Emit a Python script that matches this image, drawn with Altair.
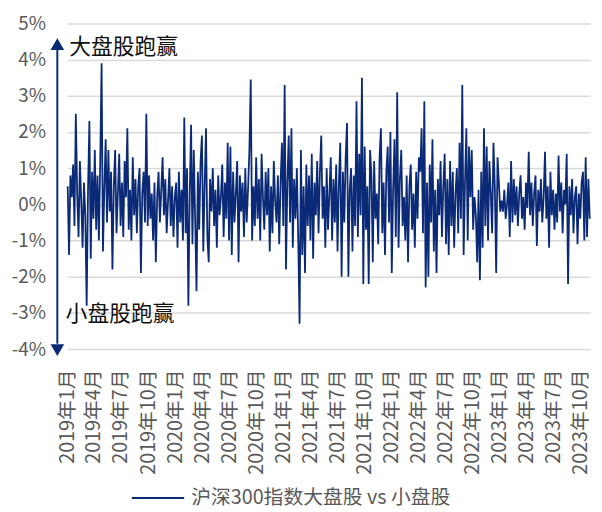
import altair as alt
import pandas as pd

# values (%), quarter by quarter
q = [
 [0.5, -1.4, 0.8, 0.2, 1.1, -0.6, 2.5, 0.3, -0.9, 1.2, 0.1, -1.2, 0.6, -0.3, -2.8, 0.4, 2.3, -1.5, 0.9, -0.4],
 [1.5, -0.7, 0.8, -1.0, 1.2, 3.9, -1.3, 0.4, 1.8, -0.5, 1.5, -0.2, 0.9, -1.8, 0.5, 1.5, -0.8, 0.3, 1.4, -0.6],
 [0.6, -0.9, 1.2, 0.2, 2.1, -0.7, 0.4, -1.0, 1.3, -0.3, 0.7, -0.8, 0.5, 1.0, -1.9, 0.3, 0.9, -0.5, 2.5, -0.6],
 [0.8, -0.4, 0.3, -1.0, 0.6, -1.6, 0.2, 0.9, -0.5, 0.4, 1.3, -0.3, 0.7, -0.8, 0.1, 1.0, -0.6, 0.5, -0.9, 0.2],
 [0.6, -1.2, 0.9, -0.5, 0.4, -1.0, 2.4, -0.8, 1.0, -2.8, 0.3, 2.2, -1.1, 1.5, -0.4, -2.4, 0.9, -0.7, 1.2, 1.9],
 [-1.3, 0.5, 2.1, -0.9, -1.6, 0.7, -0.2, 1.0, -0.6, 0.4, -1.2, 0.8, -0.3, 0.2, 1.1, -0.9, 0.6, -0.4, 1.7, -1.0],
 [1.6, -1.4, 0.9, -0.5, 0.3, 1.2, -1.6, 0.8, -0.2, 0.6, -0.9, 1.0, -0.5, 0.4, 1.5, 3.45, -1.0, 0.5, -0.6, 1.3],
 [-0.4, 0.7, -1.0, 1.4, 0.2, -0.7, 0.9, -0.3, 1.0, -1.3, 0.5, -0.8, 1.2, 0.1, -0.5, 0.8, -1.1, 0.6, 1.7, -0.6],
 [3.3, -1.8, 0.6, 1.9, -0.5, 2.1, -1.2, 0.7, -0.4, 1.0, -0.9, -3.3, 1.5, -1.4, 0.5, -1.9, 1.1, -0.6, 0.8, -1.0],
 [1.4, -1.5, 0.6, -0.3, 1.2, -0.8, 0.9, 1.9, -0.4, 0.5, -1.2, 1.0, -0.7, 0.3, 1.3, -1.0, 0.7, -0.5, 1.1, -1.3],
 [0.6, 1.7, -2.0, 0.9, -0.5, 1.3, 2.25, -2.0, 0.4, 1.0, -1.3, 0.8, -0.6, 2.85, -0.9, 1.4, -0.3, 3.5, -2.2, 1.6],
 [-0.7, 0.5, -2.2, 1.5, 0.8, -1.6, 1.2, -0.4, 0.3, -1.1, 1.3, 2.1, -0.8, 0.6, -1.4, 0.9, 1.6, -0.5, 2.0, -1.9],
 [0.4, 1.8, -0.9, 3.1, -1.2, 0.7, 1.5, -0.6, 0.2, -1.0, 0.8, -1.6, 0.5, 1.1, -0.7, 0.3, -1.2, 0.9, -0.4, 1.3],
 [0.9, 2.1, -0.8, 2.85, -2.3, 0.6, -2.0, 1.1, -0.5, 1.8, -1.3, 0.4, -1.9, 0.7, -0.3, 1.2, -0.9, 0.5, 1.4, -1.1],
 [0.7, -1.4, 1.2, -0.6, 0.9, -1.2, 0.3, 1.0, -0.8, 1.7, -0.4, 3.3, -1.4, 0.6, 2.1, -1.0, 1.6, 0.2, 1.5, -0.7],
 [0.2, -0.3, -1.6, 0.4, -2.1, 0.9, -1.2, 2.1, -0.6, 1.6, -1.0, 1.2, 0.3, -0.8, 1.7, 0.5, -1.9, 1.3, 0.6, -0.2],
 [0.1, -0.2, 0.4, -0.4, 0.0, 0.6, -0.9, 1.2, -0.5, 0.7, -0.3, 0.5, -0.6, 0.3, 0.8, -0.4, 0.2, -0.7, 0.6, -0.1],
 [1.45, -0.3, 0.6, -0.6, 0.3, 0.8, -1.15, 0.4, -0.2, 0.7, -0.5, 0.2, 1.45, -0.4, 0.5, -1.2, 0.9, -0.3, 0.4, -0.7],
 [0.3, -0.5, 1.35, -0.2, 0.6, -0.8, 0.4, 0.0, 1.4, -2.2, 0.5, -0.3, 0.7, -0.8, 0.2, 0.5, -1.1, 0.3, -0.4, 0.6],
 [0.9, -1.0, 1.3, -0.9, 0.7, -0.4],
]
values = [v for part in q for v in part]
series_name = "沪深300指数大盘股 vs 小盘股"
tick_dates = [f"{y}-{m:02d}-01" for y in range(2019, 2024) for m in (1, 4, 7, 10)]
y_ticks = [-4, -3, -2, -1, 0, 1, 2, 3, 4, 5]
annot_text = ["大盘股跑赢", "小盘股跑赢"]
annot_x = ["2019-01-07", "2018-12-26"]
annot_y = [4.35, -3.03]

NAVY = "#0a2a78"
FONT = "Noto Sans CJK SC"

dates = pd.date_range("2019-01-02", "2023-10-31", periods=len(values))
df = pd.DataFrame({"date": dates, "v": values, "series": series_name})

xscale = alt.Scale(domain=["2019-01-01", "2023-11-01"])
yscale = alt.Scale(domain=[-4, 5], nice=False, zero=False)

xaxis = alt.Axis(values=tick_dates,
                 labelExpr="timeFormat(datum.value, '%Y') + '年' + (month(datum.value)+1) + '月'",
                 labelAngle=-90, labelFontSize=20, labelFont=FONT, labelColor="#595959",
                 ticks=False, domain=False, grid=False, labelPadding=20, labelOverlap=False,
                 labelBound=False)
yaxis = alt.Axis(values=y_ticks, labelExpr="datum.value + '%'", labelFontSize=19, labelFont=FONT,
                 labelColor="#595959", ticks=False, domain=False, gridColor="#d9d9d9",
                 gridWidth=1.5, labelPadding=22, labelOverlap=False, labelBound=False,
                 labelFlush=False)

line = alt.Chart(df).mark_line(strokeWidth=1.8).encode(
    x=alt.X("date:T", scale=xscale, title=None, axis=xaxis),
    y=alt.Y("v:Q", scale=yscale, title=None, axis=yaxis),
    color=alt.Color("series:N", scale=alt.Scale(range=[NAVY]),
                    legend=alt.Legend(title=None, orient="none", legendX=64, legendY=452,
                                      symbolType="stroke", symbolSize=2800, symbolStrokeWidth=2,
                                      labelFontSize=20, labelFont=FONT, labelColor="#595959",
                                      labelOffset=6, labelLimit=500)),
)

arrow_df = pd.DataFrame({"x": ["2018-11-28"], "y1": [4.3], "y2": [-3.85]})
arrow = alt.Chart(arrow_df).mark_rule(color=NAVY, strokeWidth=2).encode(
    x=alt.X("x:T", scale=xscale, title=None, axis=xaxis),
    y=alt.Y("y1:Q", scale=yscale, title=None, axis=yaxis), y2="y2:Q")

heads_df = pd.DataFrame({"x": ["2018-11-28", "2018-11-28"], "y": [4.43, -4.03],
                         "shape": ["triangle-up", "triangle-down"]})
heads = alt.Chart(heads_df).mark_point(filled=True, opacity=1, color=NAVY, size=190).encode(
    x=alt.X("x:T", scale=xscale, title=None, axis=xaxis),
    y=alt.Y("y:Q", scale=yscale, title=None, axis=yaxis),
    shape=alt.Shape("shape:N", scale=None))

annot_df = pd.DataFrame({"x": annot_x, "y": annot_y, "t": annot_text})
annot = alt.Chart(annot_df).mark_text(align="left", baseline="middle", fontSize=22,
                                      font=FONT, color="#111111").encode(
    x=alt.X("x:T", scale=xscale, title=None, axis=xaxis),
    y=alt.Y("y:Q", scale=yscale, title=None, axis=yaxis), text="t:N")

chart = alt.layer(line, arrow, heads, annot).properties(
    width=528, height=329,
    padding={"left": 60, "top": 13, "right": 4, "bottom": 162},
    autosize=alt.AutoSizeParams(type="none"),
).configure_view(stroke=None)

chart.save("out.html", embed_options={"renderer": "svg", "actions": False})
